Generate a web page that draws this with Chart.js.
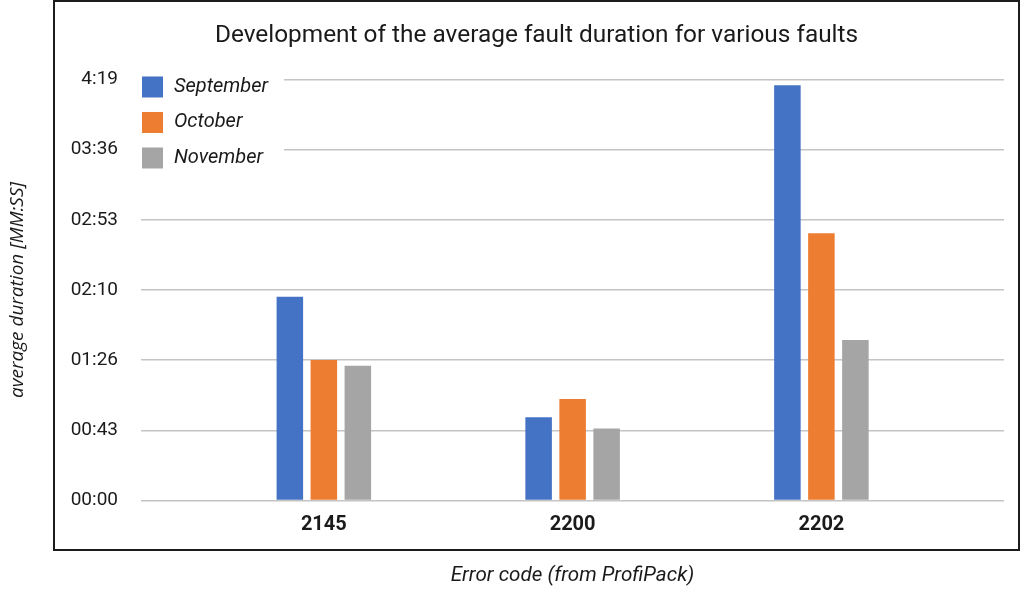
<!DOCTYPE html>
<html>
<head>
<meta charset="utf-8">
<script src="https://cdn.jsdelivr.net/npm/chart.js@4.4.1/dist/chart.umd.min.js"></script>
<style>
  html, body { margin: 0; padding: 0; background: #fff; }
  #wrap { position: relative; width: 1024px; height: 596px; }
</style>
</head>
<body>
<div id="wrap"><canvas id="c" width="1024" height="596"></canvas></div>
<script>
// ---- data (durations in seconds) ----
const categories = ['2145', '2200', '2202'];
const seriesNames = ['September', 'October', 'November'];
const september = [125.4, 51.2, 255.7];
const october = [86.5, 62.5, 164.6];
const november = [83.0, 44.4, 98.8];
const yTickLabels = ['00:00', '00:43', '01:26', '02:10', '02:53', '03:36', '4:19'];
const yStepSeconds = 43.2;

const colors = ['#4472C4', '#ED7D31', '#A5A5A5'];
const FRAME = { left: 54, top: 1, right: 1019, bottom: 550 };
const FONT = 'Roboto';

const seriesValues = [september, october, november];
const datasets = seriesNames.map((name, s) => ({
  label: name,
  data: categories.map((c, i) => ({ x: i, y: seriesValues[s][i] })),
  backgroundColor: colors[s],
  borderWidth: 0,
  categoryPercentage: 0.41,
  barPercentage: 0.78
}));

const framePlugin = {
  id: 'frame',
  beforeDraw(chart) {
    const ctx = chart.ctx;
    ctx.save();
    ctx.fillStyle = '#fff';
    ctx.fillRect(0, 0, chart.width, chart.height);
    ctx.restore();
  },
  afterLayout(chart) {
    const t = chart.titleBlock;
    if (t) { t.left = FRAME.left; t.right = FRAME.right; }
  },
  afterDraw(chart) {
    const ctx = chart.ctx;
    ctx.save();
    ctx.strokeStyle = '#1c1c1c';
    ctx.lineWidth = 2;
    ctx.strokeRect(FRAME.left, FRAME.top, FRAME.right - FRAME.left, FRAME.bottom - FRAME.top);
    ctx.restore();
  }
};

const legendPlugin = {
  id: 'innerLegend',
  afterDatasetsDraw(chart) {
    const ctx = chart.ctx;
    const a = chart.chartArea;
    const box = 21, gap = 35.5;
    const x0 = a.left + 1, y0 = a.top - 3;
    ctx.save();
    ctx.fillStyle = '#fff';
    ctx.fillRect(a.left, y0 - 8, 143, gap * chart.data.datasets.length + 4);
    ctx.font = 'italic 20px ' + FONT;
    ctx.textBaseline = 'middle';
    ctx.textAlign = 'left';
    chart.data.datasets.forEach((ds, i) => {
      const y = y0 + i * gap;
      ctx.fillStyle = ds.backgroundColor;
      ctx.fillRect(x0, y, box, box);
      ctx.fillStyle = '#1a1a1a';
      ctx.fillText(ds.label, x0 + box + 11, y + box / 2);
    });
    ctx.restore();
  }
};

new Chart(document.getElementById('c'), {
  type: 'bar',
  data: { datasets },
  plugins: [framePlugin, legendPlugin],
  options: {
    responsive: false,
    animation: false,
    devicePixelRatio: 1,
    layout: { padding: { left: 0, right: 20, top: 0, bottom: 0 } },
    plugins: {
      legend: { display: false },
      tooltip: { enabled: false },
      title: {
        display: true,
        text: 'Development of the average fault duration for various faults',
        color: '#1a1a1a',
        font: { family: FONT, size: 24.4, weight: 'normal' },
        padding: { top: 21, bottom: 29.2 }
      }
    },
    scales: {
      x: {
        type: 'linear',
        offset: false,
        min: -0.735,
        max: 2.734,
        afterFit(scale) { scale.height = 95.5; },
        grid: { display: false, drawTicks: false },
        border: { display: false },
        ticks: {
          stepSize: 1,
          includeBounds: false,
          padding: 12,
          color: '#1a1a1a',
          font: { family: FONT, size: 20, weight: 'bold' },
          callback: (v) => (Number.isInteger(v) && categories[v] !== undefined) ? categories[v] : ''
        },
        title: {
          display: true,
          text: 'Error code (from ProfiPack)',
          color: '#1a1a1a',
          font: { family: FONT, size: 20.6, style: 'italic' },
          padding: { top: 0, bottom: 8 }
        }
      },
      y: {
        min: 0,
        max: yStepSeconds * (yTickLabels.length - 1),
        afterFit(scale) { scale.width = 141; },
        grid: { color: '#c4c4c4', lineWidth: 1.6, drawTicks: false },
        border: { display: false },
        ticks: {
          stepSize: yStepSeconds,
          padding: 23,
          color: '#1a1a1a',
          font: { family: FONT, size: 19 },
          callback: (v, i) => yTickLabels[i]
        },
        title: {
          display: true,
          text: 'average duration [MM:SS]',
          color: '#1a1a1a',
          font: { family: 'Open Sans', size: 19, style: 'italic' },
          padding: { top: 6.5, bottom: 0 }
        }
      }
    }
  }
});
</script>
</body>
</html>
